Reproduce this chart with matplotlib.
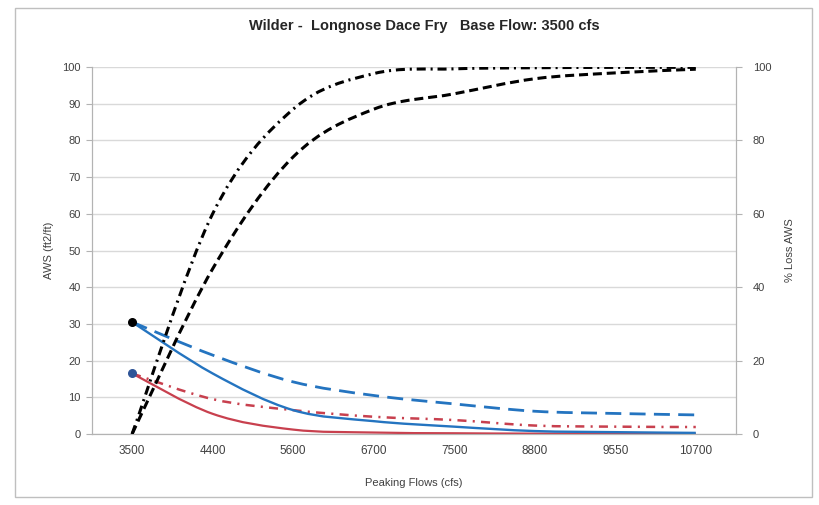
import numpy as np
import matplotlib
matplotlib.use("Agg")
import matplotlib.pyplot as plt
from matplotlib.path import Path
from matplotlib.patches import PathPatch, Rectangle

plt.rcParams['font.family'] = ['Liberation Sans', 'DejaVu Sans']
plt.rcParams['font.size'] = 8
plt.rcParams['lines.scale_dashes'] = False

flows = ["3500", "4400", "5600", "6700", "7500", "8800", "9550", "10700"]

# AWS (ft2/ft), left axis
aws_blue_solid = [30.5, 16.5, 6.5, 3.5, 2.0, 0.8, 0.5, 0.3]
aws_blue_dash = [30.5, 21.5, 14.2, 10.5, 8.2, 6.2, 5.6, 5.2]
aws_red_solid = [16.5, 5.5, 1.2, 0.4, 0.2, 0.1, 0.1, 0.1]
aws_red_dashdot = [16.5, 9.5, 6.5, 4.7, 3.8, 2.3, 2.0, 1.9]
base_aws = [30.5, 16.5]

# % loss AWS, right axis
loss_dashdot = [0, 60, 88.5, 98.2, 99.5, 99.8, 99.9, 99.9]
loss_dash = [0, 45, 75.5, 88.5, 92.7, 96.8, 98.4, 99.4]


def smooth_path(xs, ys):
    # excel-like smoothed line (cubic bezier through every point)
    pts = list(zip(xs, ys))
    n = len(pts)
    verts = [pts[0]]
    codes = [Path.MOVETO]
    for i in range(n - 1):
        p0 = pts[max(i - 1, 0)]
        p1 = pts[i]
        p2 = pts[i + 1]
        p3 = pts[min(i + 2, n - 1)]
        c1 = (p1[0] + (p2[0] - p0[0]) / 6, p1[1] + (p2[1] - p0[1]) / 6)
        c2 = (p2[0] - (p3[0] - p1[0]) / 6, p2[1] - (p3[1] - p1[1]) / 6)
        verts += [c1, c2, p2]
        codes += [Path.CURVE4] * 3
    return Path(verts, codes)


def add_curve(ax, ys, color, lw, ls):
    x = np.arange(len(ys))
    p = PathPatch(smooth_path(x, ys), fill=False, edgecolor=color, lw=lw,
                  linestyle=ls, capstyle="butt", joinstyle="round", zorder=3)
    ax.add_patch(p)


fig = plt.figure(figsize=(8.2, 5.05), dpi=100)
fig.patches.append(Rectangle((0.018, 0.016), 0.972, 0.968, transform=fig.transFigure,
                             fill=False, edgecolor="#bfbfbf", lw=1))

ax = fig.add_axes([0.112, 0.1406, 0.7856, 0.7267])
ax2 = ax.twinx()

x = np.arange(len(flows))
gray = "#b3b3b3"
txt = "#404040"

ax.set_xlim(-0.5, len(flows) - 0.5)
ax.set_ylim(0, 100)
ax.set_yticks(np.arange(0, 101, 10))
ax.set_xticks(x)
ax.set_xticklabels(flows, color=txt, fontsize=8.5)
ax.tick_params(axis="x", length=0, pad=8)
ax.tick_params(axis="y", length=4, color=gray, labelcolor=txt, pad=4)
ax.grid(axis="y", color="#d9d9d9", lw=1)
ax.set_axisbelow(True)

ax2.set_ylim(0, 100)
ax2.set_yticks(np.arange(0, 101, 20))
ax2.tick_params(axis="y", length=4, color=gray, labelcolor=txt, pad=8)

for a in (ax, ax2):
    for s in a.spines.values():
        s.set_color(gray)
    a.spines["top"].set_visible(False)

add_curve(ax, aws_blue_dash, "#2474c0", 2.0, (0, (11.5, 6)))
add_curve(ax, aws_red_dashdot, "#c8404e", 1.8, (0, (6.5, 4.5, 1.5, 4.5)))
add_curve(ax, aws_red_solid, "#c8404e", 1.6, "solid")
add_curve(ax, aws_blue_solid, "#2474c0", 1.7, "solid")
ax.scatter([0], base_aws[:1], s=30, color="black", zorder=5)
ax.scatter([0], base_aws[1:], s=30, color="#2f5597", zorder=5)

add_curve(ax2, loss_dashdot, "black", 2.2, (0, (6.5, 3.5, 1.5, 3.5)))
add_curve(ax2, loss_dash, "black", 2.2, (0, (6.5, 3.5)))

ax.set_ylabel("AWS (ft2/ft)", color=txt, labelpad=6)
ax2.set_ylabel("% Loss AWS", color=txt, rotation=90, labelpad=10)
ax.set_xlabel("Peaking Flows (cfs)", color=txt, labelpad=15)
fig.text(0.518, 0.9485, "Wilder -  Longnose Dace Fry   Base Flow: 3500 cfs",
         ha="center", va="center", fontsize=10.5, fontweight="bold", color="#262626")

fig.savefig("out.png", dpi=100, facecolor="white")
